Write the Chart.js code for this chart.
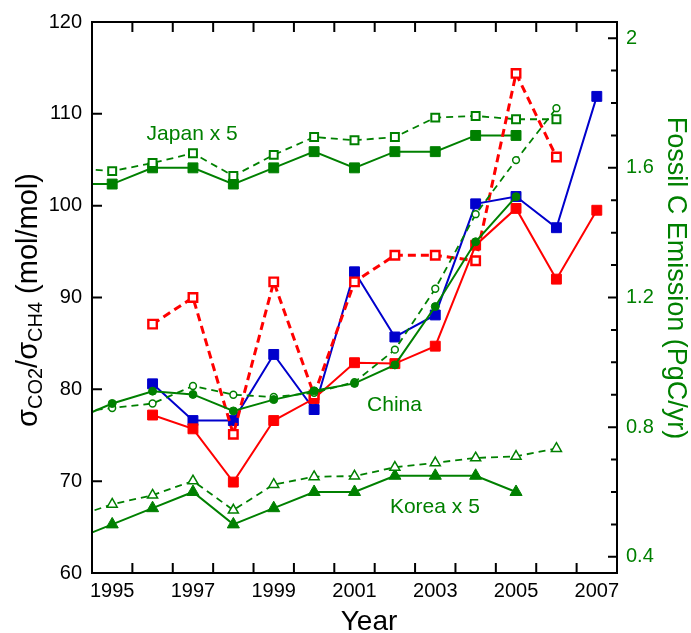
<!DOCTYPE html>
<html>
<head>
<meta charset="utf-8">
<script src="https://cdn.jsdelivr.net/npm/chart.js@4.4.1/dist/chart.umd.min.js"></script>
<style>
  html, body { margin: 0; padding: 0; background: #ffffff; }
  #wrap { width: 691px; height: 633px; }
</style>
</head>
<body>
<div id="wrap"><canvas id="chart" width="691" height="633"></canvas></div>
<script>
// Years of the annual series (1994 only feeds the line segment entering the frame)
const years = [1994, 1995, 1996, 1997, 1998, 1999, 2000, 2001, 2002, 2003, 2004, 2005, 2006, 2007];

// Emission ratio sigma(CO2)/sigma(CH4), mol/mol (left axis)
const ratioRedSolid = [null, null, 77.2, 75.7, 69.9, 76.6, 79.0, 82.9, 82.8, 84.7, 95.7, 99.7, 92.0, 99.5];
const ratioBlue     = [null, null, 80.6, 76.6, 76.6, 83.8, 77.8, 92.8, 85.7, 88.1, 100.2, 101.0, 97.6, 111.9];
const ratioRedOpen  = [null, null, 87.1, 90.0, 75.1, 91.7, 79.4, 91.7, 94.6, 94.6, 94.0, 114.4, 105.3, null];

// Fossil carbon emission, PgC/yr (right axis); Japan and Korea scaled by 5
const japanSolid = [1.55, 1.55, 1.60, 1.60, 1.55, 1.60, 1.65, 1.60, 1.65, 1.65, 1.70, 1.70, null, null];
const japanOpen  = [1.60, 1.59, 1.615, 1.645, 1.575, 1.64, 1.695, 1.685, 1.695, 1.755, 1.76, 1.75, 1.75, null];
const chinaSolid = [0.82, 0.873, 0.911, 0.901, 0.85, 0.885, 0.912, 0.935, 0.992, 1.172, 1.372, 1.511, null, null];
const chinaOpen  = [0.845, 0.859, 0.873, 0.927, 0.90, 0.893, 0.906, 0.939, 1.039, 1.227, 1.457, 1.624, 1.784, null];
const koreaSolid = [0.45, 0.50, 0.55, 0.60, 0.50, 0.55, 0.60, 0.60, 0.65, 0.65, 0.65, 0.60, null, null];
const koreaOpen  = [0.52, 0.562, 0.59, 0.634, 0.544, 0.623, 0.647, 0.649, 0.676, 0.69, 0.705, 0.71, 0.734, null];

// Tick values
const yearLabels = [1995, 1997, 1999, 2001, 2003, 2005, 2007];
const yearTickMarks = [1995.5, 1996.5, 1997.5, 1998.5, 1999.5, 2000.5, 2001.5, 2002.5, 2003.5, 2004.5, 2005.5, 2006.5];
const ratioTicks = [60, 70, 80, 90, 100, 110, 120];
const emissionMajor = [0.4, 0.8, 1.2, 1.6, 2.0];
const emissionMinor = [0.5, 0.6, 0.7, 0.9, 1.0, 1.1, 1.3, 1.4, 1.5, 1.7, 1.8, 1.9];

// Country labels placed in data space (year, emission)
const countryLabels = [
  { text: 'Japan x 5', x: 1996.98, y: 1.705 },
  { text: 'China',     x: 2001.99, y: 0.867 },
  { text: 'Korea x 5', x: 2002.99, y: 0.553 }
];

const GREEN = 'rgb(0,128,0)';
const RED = '#ff0000';
const BLUE = '#0000cc';
const FONT = '"Liberation Sans", Arial, Helvetica, sans-serif';

const pts = (vals) => years.map((x, i) => ({ x: x, y: vals[i] }));

function series(vals, axis, opt) {
  return Object.assign({
    data: pts(vals),
    yAxisID: axis,
    xAxisID: 'x',
    tension: 0,
    spanGaps: false,
    clip: 0,
    pointHoverRadius: opt.pointRadius,
    pointHoverBorderWidth: opt.pointBorderWidth
  }, opt);
}

const datasets = [
  series(chinaSolid, 'y2', { label: 'China solid', borderColor: GREEN, borderWidth: 2,
    pointStyle: 'circle', pointRadius: 4, pointBackgroundColor: GREEN, pointBorderColor: GREEN, pointBorderWidth: 1 }),
  series(chinaOpen, 'y2', { label: 'China open', borderColor: GREEN, borderWidth: 1.8, borderDash: [7, 5],
    pointStyle: 'circle', pointRadius: 3.4, pointBackgroundColor: '#ffffff', pointBorderColor: GREEN, pointBorderWidth: 1.5 }),
  series(ratioRedOpen, 'y', { label: 'ratio open', borderColor: RED, borderWidth: 3, borderDash: [8, 5],
    pointStyle: 'rect', pointRadius: 6, pointBackgroundColor: '#ffffff', pointBorderColor: RED, pointBorderWidth: 2.4 }),
  series(ratioRedSolid, 'y', { label: 'ratio red', borderColor: RED, borderWidth: 2,
    pointStyle: 'rect', pointRadius: 7, pointBackgroundColor: RED, pointBorderColor: RED, pointBorderWidth: 1 }),
  series(ratioBlue, 'y', { label: 'ratio blue', borderColor: BLUE, borderWidth: 2,
    pointStyle: 'rect', pointRadius: 7, pointBackgroundColor: BLUE, pointBorderColor: BLUE, pointBorderWidth: 1 }),
  series(japanOpen, 'y2', { label: 'Japan open', borderColor: GREEN, borderWidth: 1.8, borderDash: [7, 5],
    pointStyle: 'rect', pointRadius: 5.6, pointBackgroundColor: '#ffffff', pointBorderColor: GREEN, pointBorderWidth: 2 }),
  series(japanSolid, 'y2', { label: 'Japan solid', borderColor: GREEN, borderWidth: 2,
    pointStyle: 'rect', pointRadius: 7, pointBackgroundColor: GREEN, pointBorderColor: GREEN, pointBorderWidth: 1 }),
  series(koreaOpen, 'y2', { label: 'Korea open', borderColor: GREEN, borderWidth: 1.8, borderDash: [7, 5],
    pointStyle: 'triangle', pointRadius: 5.8, pointBackgroundColor: '#ffffff', pointBorderColor: GREEN, pointBorderWidth: 1.5 }),
  series(koreaSolid, 'y2', { label: 'Korea solid', borderColor: GREEN, borderWidth: 2,
    pointStyle: 'triangle', pointRadius: 7, pointBackgroundColor: GREEN, pointBorderColor: GREEN, pointBorderWidth: 1 })
];

// Frame with inward tick marks on all four sides
const framePlugin = {
  id: 'frame',
  afterDatasetsDraw(chart) {
    const { ctx, chartArea: a, scales } = chart;
    ctx.save();
    ctx.strokeStyle = '#000000';
    ctx.lineWidth = 2;
    ctx.lineCap = 'butt';
    ctx.beginPath();
    yearTickMarks.forEach(v => {
      const px = scales.x.getPixelForValue(v);
      ctx.moveTo(px, a.bottom); ctx.lineTo(px, a.bottom - 10);
      ctx.moveTo(px, a.top); ctx.lineTo(px, a.top + 10);
    });
    ratioTicks.forEach(v => {
      const py = scales.y.getPixelForValue(v);
      ctx.moveTo(a.left, py); ctx.lineTo(a.left + 10, py);
    });
    emissionMajor.forEach(v => {
      const py = scales.y2.getPixelForValue(v);
      ctx.moveTo(a.right, py); ctx.lineTo(a.right - 9, py);
    });
    emissionMinor.forEach(v => {
      const py = scales.y2.getPixelForValue(v);
      ctx.moveTo(a.right, py); ctx.lineTo(a.right - 6, py);
    });
    ctx.stroke();
    ctx.strokeRect(a.left, a.top, a.right - a.left, a.bottom - a.top);

    // country labels
    ctx.fillStyle = GREEN;
    ctx.font = '21px ' + FONT;
    ctx.textAlign = 'center';
    ctx.textBaseline = 'middle';
    countryLabels.forEach(l => {
      ctx.fillText(l.text, scales.x.getPixelForValue(l.x), scales.y2.getPixelForValue(l.y));
    });
    ctx.restore();
  },
  afterDraw(chart) {
    const { ctx } = chart;
    ctx.save();
    ctx.textBaseline = 'alphabetic';

    // bottom title
    ctx.fillStyle = '#000000';
    ctx.font = '28px ' + FONT;
    ctx.textAlign = 'center';
    ctx.fillText('Year', 369, 630);

    // left title with subscripts
    const big = '29px ' + FONT, small = '20px ' + FONT;
    const parts = [['σ', big, 0], ['CO2', small, 5], ['/σ', big, 0], ['CH4', small, 5], [' (mol/mol)', big, 0]];
    let total = 0;
    parts.forEach(p => { ctx.font = p[1]; p.push(ctx.measureText(p[0]).width); total += p[3]; });
    ctx.translate(37, 300);
    ctx.rotate(-Math.PI / 2);
    ctx.textAlign = 'left';
    let cx = -total / 2;
    parts.forEach(p => { ctx.font = p[1]; ctx.fillText(p[0], cx, p[2]); cx += p[3]; });
    ctx.setTransform(1, 0, 0, 1, 0, 0);

    // right title
    ctx.fillStyle = GREEN;
    ctx.font = '27px ' + FONT;
    ctx.textAlign = 'center';
    ctx.translate(668, 278);
    ctx.rotate(Math.PI / 2);
    ctx.fillText('Fossil C Emission (PgC/yr)', 0, 0);
    ctx.restore();
  }
};

new Chart(document.getElementById('chart'), {
  type: 'line',
  data: { datasets: datasets },
  plugins: [framePlugin],
  options: {
    responsive: false,
    animation: false,
    events: [],
    devicePixelRatio: 1,
    layout: { padding: { top: 21, left: 0, right: 0, bottom: 0 } },
    plugins: { legend: { display: false }, tooltip: { enabled: false } },
    scales: {
      x: {
        type: 'linear',
        position: 'bottom',
        min: 1994.5,
        max: 2007.5,
        grid: { display: false, drawTicks: false },
        border: { display: false },
        afterBuildTicks: s => { s.ticks = yearLabels.map(v => ({ value: v })); },
        afterFit: s => { s.height = 60; },
        ticks: {
          color: '#000000',
          font: { family: FONT, size: 20 },
          padding: 6,
          maxRotation: 0,
          autoSkip: false,
          callback: v => String(v)
        }
      },
      y: {
        type: 'linear',
        position: 'left',
        min: 60,
        max: 120,
        grid: { display: false, drawTicks: false },
        border: { display: false },
        afterBuildTicks: s => { s.ticks = ratioTicks.map(v => ({ value: v })); },
        afterFit: s => { s.width = 92; },
        ticks: {
          color: '#000000',
          font: { family: FONT, size: 20 },
          padding: 10,
          autoSkip: false,
          callback: v => String(v)
        }
      },
      y2: {
        type: 'linear',
        position: 'right',
        min: 0.35,
        max: 2.05,
        grid: { display: false, drawTicks: false },
        border: { display: false },
        afterBuildTicks: s => { s.ticks = emissionMajor.map(v => ({ value: v })); },
        afterFit: s => { s.width = 74; },
        ticks: {
          color: GREEN,
          font: { family: FONT, size: 20 },
          padding: 9,
          autoSkip: false,
          callback: v => String(Math.round(v * 10) / 10)
        }
      }
    }
  }
});
</script>
</body>
</html>
